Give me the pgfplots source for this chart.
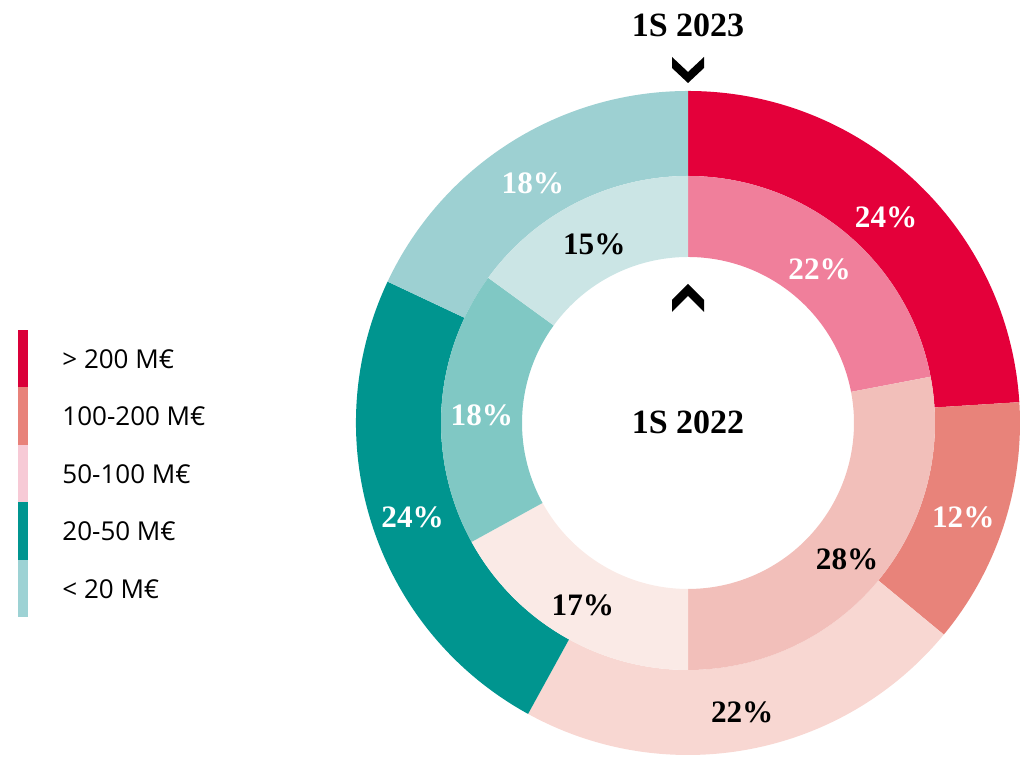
\documentclass[border=0pt]{standalone}
\usepackage{pgfplots}
\pgfplotsset{compat=1.18}
\usepackage{pgfplotstable}
\usepackage{fontspec}
\setmainfont{Liberation Serif}
\newfontfamily\legfont{Open Sans}

\definecolor{oA}{HTML}{E4003A}
\definecolor{oB}{HTML}{E8837A}
\definecolor{oC}{HTML}{F8D7D2}
\definecolor{oD}{HTML}{00958F}
\definecolor{oE}{HTML}{9DD0D2}
\definecolor{iA}{HTML}{F07F9B}
\definecolor{iB}{HTML}{F2BFBA}
\definecolor{iC}{HTML}{FAEAE6}
\definecolor{iD}{HTML}{80C8C4}
\definecolor{iE}{HTML}{CBE5E5}
\definecolor{lA}{HTML}{DA0039}
\definecolor{lB}{HTML}{E8827A}
\definecolor{lC}{HTML}{F7CAD6}
\definecolor{lD}{HTML}{009590}
\definecolor{lE}{HTML}{9DD2D4}

\newcommand\pctfont{\bfseries\fontsize{15.6}{15.6}\selectfont}

% 1S 2023 (outer ring)
\pgfplotstableread{
pct fill txt
24 oA white
12 oB white
22 oC black
24 oD white
18 oE white
}\outerdata
% 1S 2022 (inner ring)
\pgfplotstableread{
pct fill txt
22 iA white
28 iB black
17 iC black
18 iD white
15 iE black
}\innerdata
\pgfplotstableread[col sep=comma]{
label,fill
> 200 M€,lA
100-200 M€,lB
50-100 M€,lC
20-50 M€,lD
< 20 M€,lE
}\legdata

% #1 table, #2 outer radius (pt), #3 inner radius (pt), #4 label radius (pt)
\newcommand\ring[4]{%
  \gdef\acc{90}%
  \pgfplotsforeachungrouped \i in {0,...,4}{%
    \pgfplotstablegetelem{\i}{pct}\of#1\let\p\pgfplotsretval
    \pgfplotstablegetelem{\i}{fill}\of#1\let\fc\pgfplotsretval
    \pgfplotstablegetelem{\i}{txt}\of#1\let\tc\pgfplotsretval
    \pgfmathsetmacro\aone{\acc}%
    \pgfmathsetmacro\atwo{\acc-3.6*\p}%
    \pgfmathsetmacro\aback{\atwo+180}%
    \pgfmathsetmacro\amid{(\aone+\atwo)/2}%
    \pgfmathsetmacro\dr{#2-#3}%
    \edef\temp{\noexpand\fill[\fc] (axis cs:688,335) ++(\aone:#2pt) arc[start angle=\aone,end angle=\atwo,radius=#2pt] -- ++(\aback:\dr pt) arc[start angle=\atwo,end angle=\aone,radius=#3pt] -- cycle;
      \noexpand\node[text=\tc,font=\noexpand\pctfont,shift={(\amid:#4pt)},yshift=-2.5pt] at (axis cs:688,335) {\p\noexpand\%};}%
    \temp
    \global\let\acc\atwo
  }%
}

\begin{document}
\begin{tikzpicture}
\begin{axis}[hide axis, x=0.5pt, y=0.5pt, xmin=0, xmax=1025, ymin=0, ymax=758,
  scale only axis, clip=false]
\coordinate (ll) at (axis cs:0,0);
\coordinate (ur) at (axis cs:1025,758);
\ring{\outerdata}{166}{123.5}{144.75}
\ring{\innerdata}{123.5}{83}{103.25}
% legend
\pgfplotsforeachungrouped \j in {0,...,4}{%
  \pgfplotstablegetelem{\j}{label}\of\legdata\let\lab\pgfplotsretval
  \pgfplotstablegetelem{\j}{fill}\of\legdata\let\lf\pgfplotsretval
  \pgfmathsetmacro\ytop{428-57.5*\j}%
  \pgfmathsetmacro\ybot{\ytop-57.5}%
  \pgfmathsetmacro\ymid{\ytop-28.75}%
  \edef\temp{\noexpand\fill[\lf] (axis cs:18,\ytop) rectangle (axis cs:28,\ybot);
    \noexpand\node[anchor=west,font=\noexpand\legfont\noexpand\fontsize{13}{15}\noexpand\selectfont,inner sep=0pt] at (axis cs:62,\ymid) {\expandafter\unexpanded\expandafter{\lab}};}%
  \temp
}
% titles
\node[font=\bfseries\fontsize{17}{17}\selectfont] at (axis cs:688,733) {1S 2023};
\node[font=\bfseries\fontsize{17}{17}\selectfont] at (axis cs:688,336) {1S 2022};
% chevrons
\fill[black] (axis cs:672,701) -- (axis cs:688,686) -- (axis cs:704,701) -- (axis cs:704,690) -- (axis cs:688,675) -- (axis cs:672,690) -- cycle;
\fill[black] (axis cs:672,458) -- (axis cs:688,474) -- (axis cs:704,458) -- (axis cs:704,446) -- (axis cs:688,462) -- (axis cs:672,446) -- cycle;
\end{axis}
\pgfresetboundingbox
\path (ll) rectangle (ur);
\end{tikzpicture}
\end{document}
